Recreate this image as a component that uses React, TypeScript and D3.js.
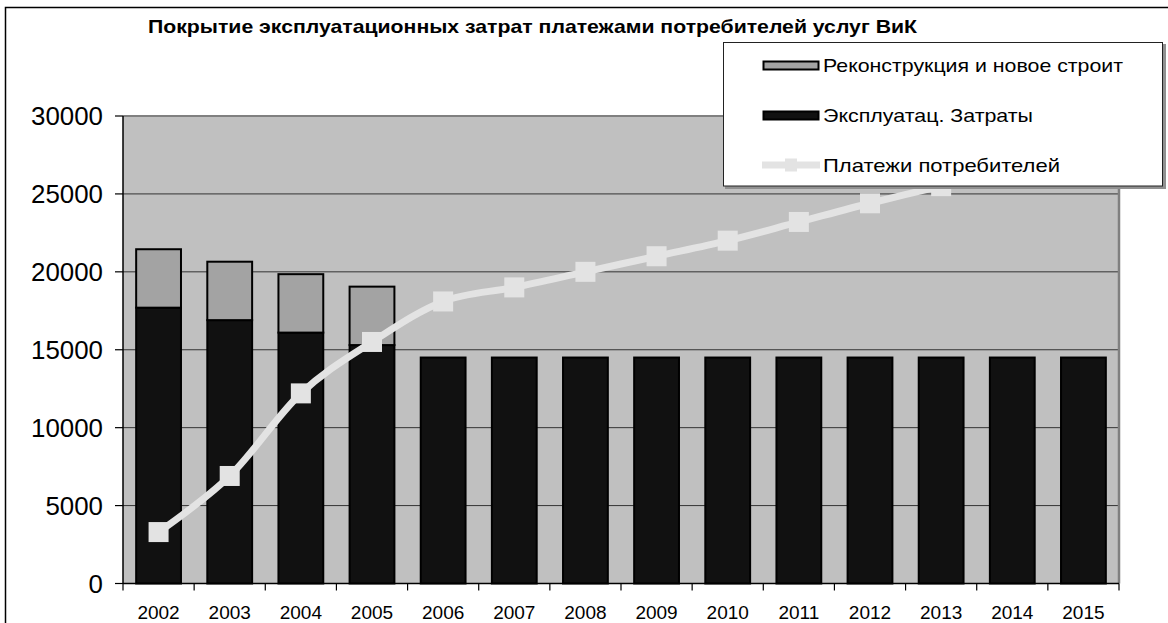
import React from "react";
import * as d3 from "d3";

// data
const years = ["2002", "2003", "2004", "2005", "2006", "2007", "2008", "2009", "2010", "2011", "2012", "2013", "2014", "2015"];
const opCosts = [17700, 16900, 16100, 15300, 14500, 14500, 14500, 14500, 14500, 14500, 14500, 14500, 14500, 14500];
const reconstruction = [3750, 3750, 3750, 3750, 0, 0, 0, 0, 0, 0, 0, 0, 0, 0];
const payments = [3300, 6900, 12200, 15500, 18100, 19000, 20000, 21000, 22000, 23200, 24400, 25500, 26500, 27500];
const yTicks = [0, 5000, 10000, 15000, 20000, 25000, 30000];
const legendNames = ["Реконструкция и новое строит", "Эксплуатац. Затраты", "Платежи потребителей"];
const legendWidths = [300, 210, 237];
const title = "Покрытие эксплуатационных затрат платежами потребителей услуг ВиК";

const W = 1168, H = 623;
const left = 123, right = 1119, top = 116, bottom = 583.5;
const font = "Arial, 'Liberation Sans', sans-serif";

const App = () => {
  const x = d3.scaleBand().domain(years).range([left, right]).paddingInner(0.37).paddingOuter(0.185);
  const y = d3.scaleLinear().domain([0, 30000]).range([bottom, top]);
  const step = x.step();

  const line = d3.line<number>()
    .x((_, i) => x(years[i])! + x.bandwidth() / 2)
    .y(d => y(d))
    .curve(d3.curveCardinal.tension(0));

  const legendY = [65.5, 115.5, 165];

  return (
    <svg width={W} height={H} style={{ position: "absolute", left: 0, top: 0, background: "#fff" }}>
      {/* outer frame */}
      <rect x={5.5} y={7.5} width={1200} height={700} fill="#fff" stroke="#000" strokeWidth={1.5} />
      <text x={148} y={33} fontFamily={font} fontWeight="bold" fontSize={18.5} fill="#000"
        textLength={769} lengthAdjust="spacingAndGlyphs">{title}</text>

      {/* plot area */}
      <rect x={left} y={top} width={right - left} height={bottom - top} fill="#c0c0c0" />
      {yTicks.filter(t => t > 0 && t < 30000).map(t => (
        <line key={t} x1={left} x2={right} y1={y(t)} y2={y(t)} stroke="#333" strokeWidth={1} />
      ))}
      <line x1={left} x2={right} y1={top} y2={top} stroke="#808080" strokeWidth={2} />
      <line x1={right} x2={right} y1={top - 1} y2={bottom} stroke="#808080" strokeWidth={2.5} />

      {/* bars */}
      {years.map((yr, i) => (
        <g key={yr}>
          <rect x={x(yr)} y={y(opCosts[i])} width={x.bandwidth()} height={bottom - y(opCosts[i])}
            fill="#111" stroke="#000" strokeWidth={2} />
          {reconstruction[i] > 0 && (
            <rect x={x(yr)} y={y(opCosts[i] + reconstruction[i])} width={x.bandwidth()}
              height={y(opCosts[i]) - y(opCosts[i] + reconstruction[i])}
              fill="#a3a3a3" stroke="#000" strokeWidth={2} />
          )}
        </g>
      ))}

      {/* axes */}
      <line x1={left} x2={left} y1={top} y2={bottom} stroke="#000" strokeWidth={1.5} />
      <line x1={left} x2={right} y1={bottom} y2={bottom} stroke="#000" strokeWidth={1.5} />
      {yTicks.map(t => (
        <g key={t}>
          <line x1={115} x2={left} y1={y(t)} y2={y(t)} stroke="#000" strokeWidth={1.2} />
          <text x={103} y={y(t)} dy="0.36em" textAnchor="end" fontFamily={font} fontSize={25} fill="#000"
            textLength={String(t).length * 14.4} lengthAdjust="spacingAndGlyphs">{t}</text>
        </g>
      ))}
      {d3.range(years.length + 1).map(i => (
        <line key={i} x1={left + i * step} x2={left + i * step} y1={bottom} y2={bottom + 7} stroke="#000" strokeWidth={1.2} />
      ))}
      {years.map(yr => (
        <text key={yr} x={x(yr)! + x.bandwidth() / 2} y={619} textAnchor="middle" fontFamily={font} fontSize={19} fill="#000">{yr}</text>
      ))}

      {/* payments line */}
      <path d={line(payments) ?? ""} fill="none" stroke="#e3e3e3" strokeWidth={7} />
      {payments.map((v, i) => (
        <rect key={i} x={x(years[i])! + x.bandwidth() / 2 - 10} y={y(v) - 10} width={20} height={20} fill="#e3e3e3" />
      ))}

      {/* legend */}
      <rect x={725} y={44} width={441} height={145} fill="#909090" />
      <rect x={723.5} y={42.5} width={439} height={143.5} fill="#fff" stroke="#222" strokeWidth={1} />
      <rect x={763.5} y={legendY[0] - 4} width={55} height={8} fill="#a3a3a3" stroke="#000" strokeWidth={2} />
      <rect x={763.5} y={legendY[1] - 4} width={55} height={8} fill="#111" stroke="#000" strokeWidth={2} />
      <line x1={762} x2={820} y1={legendY[2]} y2={legendY[2]} stroke="#e3e3e3" strokeWidth={7} />
      <rect x={785} y={legendY[2] - 6.5} width={12} height={13} fill="#e3e3e3" />
      {legendNames.map((n, i) => (
        <text key={n} x={823} y={legendY[i]} dy="0.36em" fontFamily={font} fontSize={18.5} fill="#000"
          textLength={legendWidths[i]} lengthAdjust="spacingAndGlyphs">{n}</text>
      ))}
    </svg>
  );
};

export default App;
